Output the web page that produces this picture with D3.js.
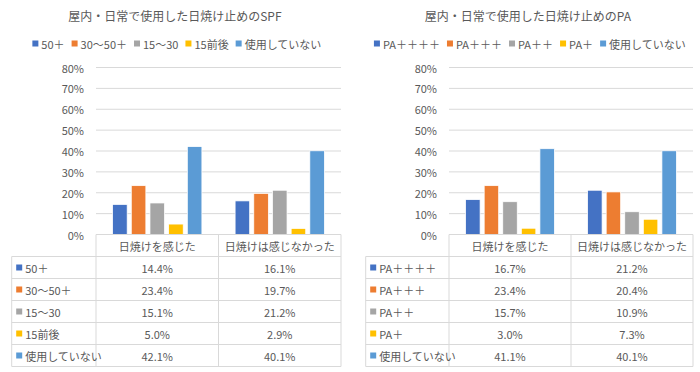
<!DOCTYPE html>
<html>
<head>
<meta charset="utf-8">
<script src="https://cdn.jsdelivr.net/npm/d3@7"></script>
<style>
  body { margin: 0; background: #fff; }
  svg { display: block; font-family: "Noto Sans CJK JP", "Noto Sans", sans-serif; }
</style>
</head>
<body>
<svg id="chart" width="700" height="372"></svg>
<script>
// values
const categories = ['日焼けを感じた', '日焼けは感じなかった'];
const yTicks = [0, 10, 20, 30, 40, 50, 60, 70, 80];
const colors = ['#4472C4', '#ED7D31', '#A5A5A5', '#FFC000', '#5B9BD5'];

const spfSeries = ['50＋', '30～50＋', '15～30', '15前後', '使用していない'];
const spfFelt = [14.4, 23.4, 15.1, 5.0, 42.1];
const spfNotFelt = [16.1, 19.7, 21.2, 2.9, 40.1];

const paSeries = ['PA＋＋＋＋', 'PA＋＋＋', 'PA＋＋', 'PA＋', '使用していない'];
const paFelt = [16.7, 23.4, 15.7, 3.0, 41.1];
const paNotFelt = [21.2, 20.4, 10.9, 7.3, 40.1];

const textColor = '#595959';
const lineColor = '#d9d9d9';

const svg = d3.select('#chart');

const drawChart = (opts) => {
  const { title, series, felt, notFelt, plotLeft, plotRight, tableLeft } = opts;
  const g = svg.append('g');
  const plotTop = 67.5;
  const plotBottom = 234.5;
  const rowH = 22;
  const values = [felt, notFelt];
  const mid = (tableLeft + plotRight) / 2;

  const y = d3.scaleLinear().domain([0, 80]).range([plotBottom, plotTop]);
  const x0 = d3.scaleBand().domain(categories).range([plotLeft, plotRight]);
  const x1 = d3.scaleBand()
      .domain(d3.range(series.length))
      .range([16.6, x0.bandwidth() - 16.6])
      .paddingInner(0.22);

  // title
  g.append('text')
    .attr('x', mid - 1.5)
    .attr('y', 15)
    .attr('text-anchor', 'middle')
    .attr('dominant-baseline', 'central')
    .attr('font-size', 12)
    .attr('fill', textColor)
    .text(title);

  // legend, centred under title
  const legend = g.append('g');
  const items = legend.selectAll('g')
    .data(series)
    .join('g');
  items.append('rect')
    .attr('width', 6).attr('height', 6)
    .attr('y', -3)
    .attr('fill', (d, i) => colors[i]);
  items.append('text')
    .attr('x', 9)
    .attr('dominant-baseline', 'central')
    .attr('font-size', 11)
    .attr('fill', textColor)
    .text(d => d);
  let cursor = 0;
  items.each(function () {
    const w = 9 + d3.select(this).select('text').node().getComputedTextLength();
    d3.select(this).attr('transform', `translate(${cursor},0)`);
    cursor += w + 7;
  });
  const legendW = cursor - 7;
  legend.attr('transform', `translate(${mid + 0.5 - legendW / 2},43.5)`);

  // gridlines and y labels
  g.append('g')
    .selectAll('line')
    .data(yTicks.filter(t => t > 0))
    .join('line')
      .attr('x1', plotLeft).attr('x2', plotRight)
      .attr('y1', d => y(d)).attr('y2', d => y(d))
      .attr('stroke', lineColor);
  g.append('g')
    .selectAll('text')
    .data(yTicks)
    .join('text')
      .attr('x', plotLeft - 12)
      .attr('y', d => y(d))
      .attr('text-anchor', 'end')
      .attr('dominant-baseline', 'central')
      .attr('font-size', 11)
      .attr('fill', textColor)
      .text(d => d + '%');

  // bars
  const groups = g.append('g')
    .selectAll('g')
    .data(categories)
    .join('g')
      .attr('transform', d => `translate(${x0(d)},0)`);
  groups.selectAll('rect')
    .data((d, ci) => series.map((s, si) => ({ si, v: values[ci][si] })))
    .join('rect')
      .attr('x', d => x1(d.si))
      .attr('width', x1.bandwidth())
      .attr('y', d => y(d.v))
      .attr('height', d => plotBottom - y(d.v))
      .attr('fill', d => colors[d.si])
      .attr('stroke', '#fff')
      .attr('stroke-width', 0.75);

  // data table
  const table = g.append('g')
    .attr('stroke', lineColor)
    .attr('fill', 'none');
  const rows = series.length;
  const tableBottom = plotBottom + rowH * (rows + 1);
  table.append('line')
    .attr('x1', plotLeft).attr('x2', plotRight)
    .attr('y1', plotBottom).attr('y2', plotBottom);
  d3.range(1, rows + 2).forEach(r => {
    table.append('line')
      .attr('x1', tableLeft).attr('x2', plotRight)
      .attr('y1', plotBottom + r * rowH).attr('y2', plotBottom + r * rowH);
  });
  table.append('line')
    .attr('x1', tableLeft).attr('x2', tableLeft)
    .attr('y1', plotBottom + rowH).attr('y2', tableBottom);
  [plotLeft, x0(categories[1]), plotRight].forEach(xv => {
    table.append('line')
      .attr('x1', xv).attr('x2', xv)
      .attr('y1', plotBottom).attr('y2', tableBottom);
  });

  // header
  g.append('g')
    .selectAll('text')
    .data(categories)
    .join('text')
      .attr('x', d => x0(d) + x0.bandwidth() / 2)
      .attr('y', plotBottom + rowH / 2)
      .attr('text-anchor', 'middle')
      .attr('dominant-baseline', 'central')
      .attr('font-size', 11)
      .attr('fill', textColor)
      .text(d => d);

  // rows
  const rowG = g.append('g')
    .selectAll('g')
    .data(series)
    .join('g')
      .attr('transform', (d, i) => `translate(0,${plotBottom + rowH * (i + 1.5)})`);
  rowG.append('rect')
    .attr('x', tableLeft + 4.5)
    .attr('y', -3)
    .attr('width', 6).attr('height', 6)
    .attr('fill', (d, i) => colors[i]);
  rowG.append('text')
    .attr('x', tableLeft + 13.5)
    .attr('dominant-baseline', 'central')
    .attr('font-size', 11)
    .attr('fill', textColor)
    .text(d => d);
  categories.forEach((c, ci) => {
    rowG.append('text')
      .attr('x', x0(c) + x0.bandwidth() / 2)
      .attr('text-anchor', 'middle')
      .attr('dominant-baseline', 'central')
      .attr('font-size', 11)
      .attr('fill', textColor)
      .text((d, i) => values[ci][i].toFixed(1) + '%');
  });
};

drawChart({
  title: '屋内・日常で使用した日焼け止めのSPF',
  series: spfSeries,
  felt: spfFelt,
  notFelt: spfNotFelt,
  plotLeft: 96,
  plotRight: 341,
  tableLeft: 11.7,
});

drawChart({
  title: '屋内・日常で使用した日焼け止めのPA',
  series: paSeries,
  felt: paFelt,
  notFelt: paNotFelt,
  plotLeft: 449,
  plotRight: 693,
  tableLeft: 365.7,
});
</script>
</body>
</html>
